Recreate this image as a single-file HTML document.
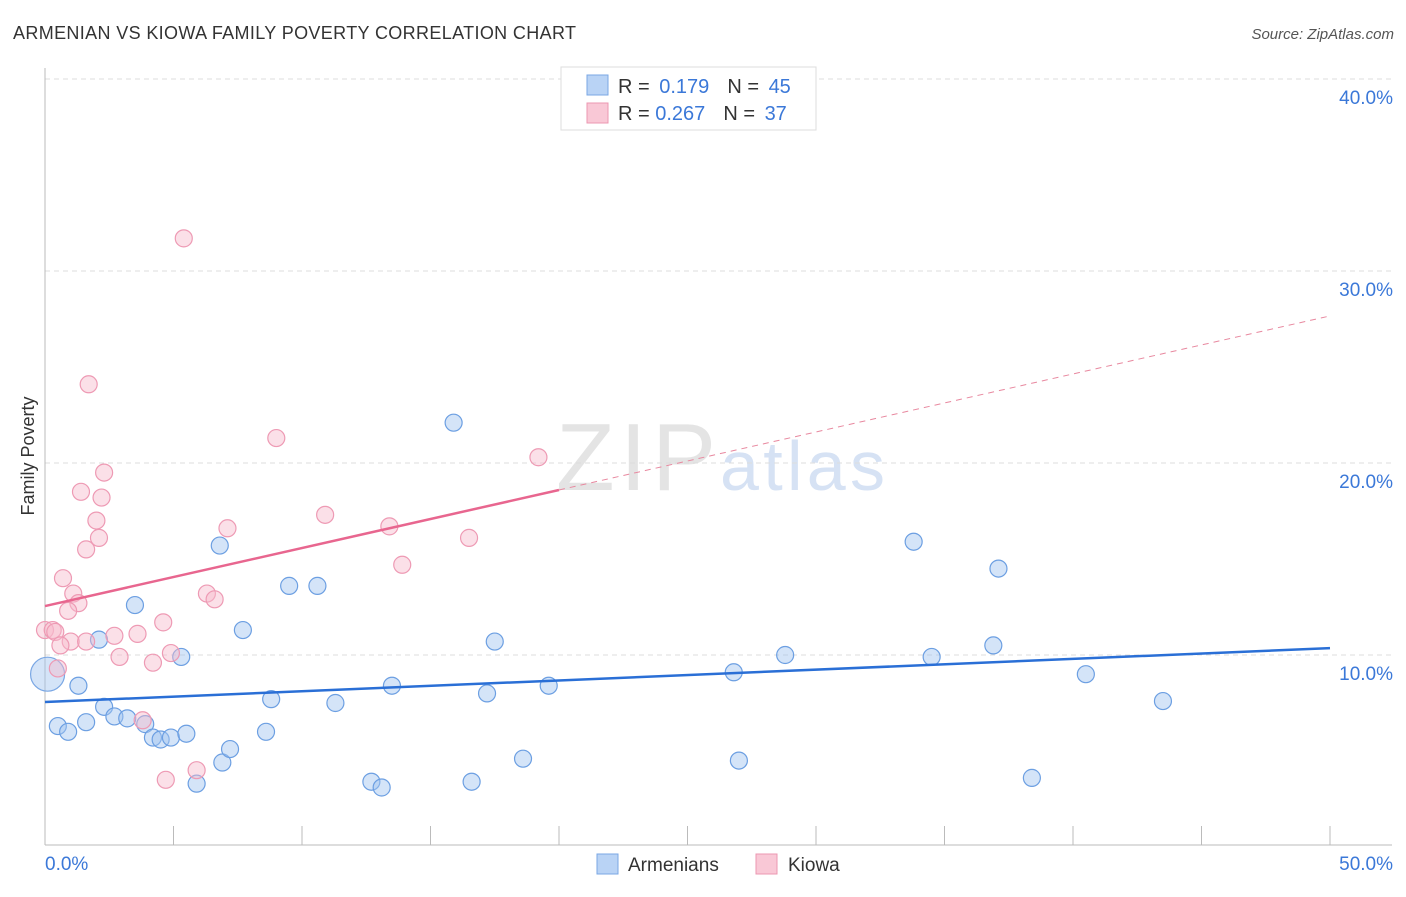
<!DOCTYPE html>
<html><head><meta charset="utf-8"><style>
body{margin:0;background:#fff;font-family:"Liberation Sans",sans-serif}
svg text{font-family:"Liberation Sans",sans-serif}
</style></head><body>
<svg id="chart" width="1406" height="892" viewBox="0 0 1406 892" xmlns="http://www.w3.org/2000/svg">
<text x="13" y="39" font-size="18" fill="#333" textLength="563">ARMENIAN VS KIOWA FAMILY POVERTY CORRELATION CHART</text>
<text x="1394" y="39" font-size="15" fill="#555" font-style="italic" text-anchor="end">Source: ZipAtlas.com</text>
<text x="34" y="456" font-size="18" fill="#333" text-anchor="middle" transform="rotate(-90 34 456)">Family Poverty</text>
<text x="716" y="490" font-size="96" fill="#e4e4e4" text-anchor="end" textLength="160" font-family="Liberation Serif">ZIP</text>
<text x="720" y="490" font-size="70" fill="#d6e2f4" textLength="165">atlas</text>
<g id="grid"></g><g id="marks"></g>
<g>
<rect x="561" y="67" width="255" height="63" fill="#fff" stroke="#ddd"/>
<rect x="587" y="75" width="21" height="20" fill="#b9d3f5" stroke="#7aa7e4"/>
<rect x="587" y="103" width="21" height="20" fill="#f9c8d6" stroke="#ec97b1"/>
<text x="618" y="93" font-size="20" fill="#333">R = <tspan fill="#3b78d8" dx="4">0.179</tspan><tspan fill="#333" dx="18">N = </tspan><tspan fill="#3b78d8" dx="4">45</tspan></text>
<text x="618" y="120" font-size="20" fill="#333">R = <tspan fill="#3b78d8">0.267</tspan><tspan fill="#333" dx="18">N = </tspan><tspan fill="#3b78d8" dx="4">37</tspan></text>
</g>
<g>
<rect x="597" y="854" width="21" height="20" fill="#b9d3f5" stroke="#7aa7e4"/>
<text x="628" y="871" font-size="19" fill="#333">Armenians</text>
<rect x="756" y="854" width="21" height="20" fill="#f9c8d6" stroke="#ec97b1"/>
<text x="788" y="871" font-size="19" fill="#333">Kiowa</text>
</g>
</svg>
<script>
const xTickLabels=["0.0%","50.0%"];
const yTicks=[10,20,30,40];
const armX=[0.1,0.5,0.9,1.3,1.6,2.1,2.3,2.7,3.2,3.5,3.9,4.2,4.5,4.9,5.3,5.5,5.9,6.8,6.9,7.2,7.7,8.6,8.8,9.5,10.6,11.3,12.7,13.1,13.5,15.9,16.6,17.2,17.5,18.6,19.6,26.8,27.0,28.8,33.8,34.5,36.9,37.1,38.4,40.5,43.5];
const armY=[9.0,6.3,6.0,8.4,6.5,10.8,7.3,6.8,6.7,12.6,6.4,5.7,5.6,5.7,9.9,5.9,3.3,15.7,4.4,5.1,11.3,6.0,7.7,13.6,13.6,7.5,3.4,3.1,8.4,22.1,3.4,8.0,10.7,4.6,8.4,9.1,4.5,10.0,15.9,9.9,10.5,14.5,3.6,9.0,7.6];
const kioX=[5.4,1.7,9.0,19.2,2.3,1.4,2.2,2.0,10.9,7.1,13.4,2.1,16.5,1.6,13.9,0.7,1.1,6.3,6.6,1.3,0.9,4.6,0.0,0.3,0.4,2.7,3.6,1.0,1.6,0.6,2.9,4.9,4.2,0.5,3.8,5.9,4.7];
const kioY=[31.7,24.1,21.3,20.3,19.5,18.5,18.2,17.0,17.3,16.6,16.7,16.1,16.1,15.5,14.7,14.0,13.2,13.2,12.9,12.7,12.3,11.7,11.3,11.3,11.2,11.0,11.1,10.7,10.7,10.5,9.9,10.1,9.6,9.3,6.6,4.0,3.5];
const armTrend=[7.55,10.36];
const kioTrend=[12.55,27.66];
const NS="http://www.w3.org/2000/svg";
const X=v=>45+v/50*1285, Y=v=>847-v*19.2;
function mk(tag,attrs,parent){const e=document.createElementNS(NS,tag);for(const k in attrs)e.setAttribute(k,attrs[k]);parent.appendChild(e);return e;}
const grid=document.getElementById('grid'),marks=document.getElementById('marks');
yTicks.forEach(t=>{
 const l=mk('line',{x1:45,x2:1392,y1:Y(t),y2:Y(t),stroke:'#ddd','stroke-dasharray':'5,4'},grid);
 
 
 const tx=mk('text',{x:1393,y:Y(t)+25,'font-size':19,fill:'#3b78d8','text-anchor':'end'},grid);
 tx.textContent=t.toFixed(1)+'%';
 
 
});
const ax=mk('line',{x1:45,x2:1392,y1:845,y2:845,stroke:'#bbb'},grid);


const ay=mk('line',{x1:45,x2:45,y1:68,y2:845,stroke:'#bbb'},grid);


for(let i=0;i<=10;i++){
 const t=mk('line',{x1:X(i*5),x2:X(i*5),y1:826,y2:845,stroke:'#bbb'},grid);
 
 
}
[[0,'start',45],[1,'end',1393]].forEach(([i,a,x])=>{
 const t=mk('text',{x:x,y:870,'font-size':19,fill:'#3b78d8','text-anchor':a},grid);
 t.textContent=xTickLabels[i];
 
 
});
const big=mk('circle',{cx:X(armX[0]),cy:Y(armY[0]),r:17,fill:'rgba(160,196,240,0.45)',stroke:'#7aa7e4','stroke-width':1.2},marks);


armX.forEach((x,i)=>{if(i===0)return;
 const c=mk('circle',{cx:X(x),cy:Y(armY[i]),r:8.5,fill:'rgba(160,196,240,0.45)',stroke:'#6c9fe2','stroke-width':1.2},marks);
 
 
});
kioX.forEach((x,i)=>{
 const c=mk('circle',{cx:X(x),cy:Y(kioY[i]),r:8.5,fill:'rgba(247,186,205,0.45)',stroke:'#ee9ab4','stroke-width':1.2},marks);
 
 
});
const bl=mk('line',{x1:X(0),y1:Y(armTrend[0]),x2:X(50),y2:Y(armTrend[1]),stroke:'#2a6fd6','stroke-width':2.5},marks);


const kAt=v=>kioTrend[0]+(kioTrend[1]-kioTrend[0])*v/50;
const kl=mk('line',{x1:X(0),y1:Y(kAt(0)),x2:X(20),y2:Y(kAt(20)),stroke:'#e8668f','stroke-width':2.5},marks);


const kd=mk('line',{x1:X(20),y1:Y(kAt(20)),x2:X(50),y2:Y(kAt(50)),stroke:'#e8889f','stroke-width':1,'stroke-dasharray':'6,5'},marks);


</script>
</body></html>
